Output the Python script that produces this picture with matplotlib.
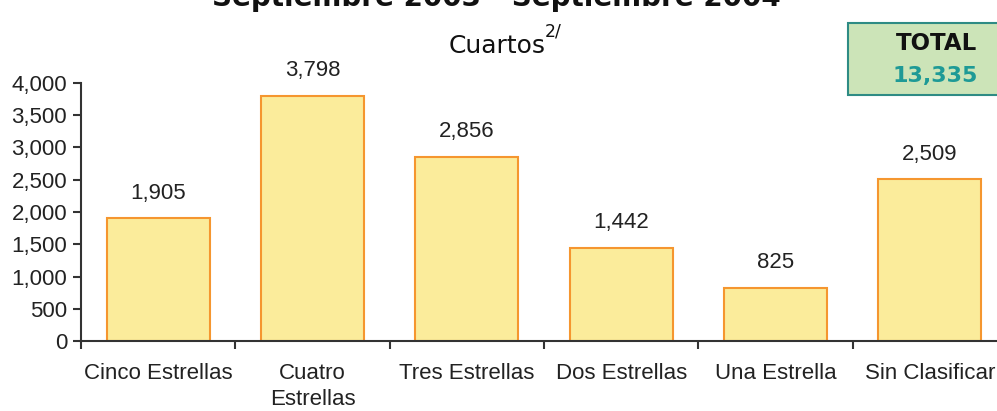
import matplotlib.pyplot as plt
from matplotlib.patches import Rectangle

categories = ['Cinco Estrellas', 'Cuatro\nEstrellas', 'Tres Estrellas',
              'Dos Estrellas', 'Una Estrella', 'Sin Clasificar']
rooms = [1905, 3798, 2856, 1442, 825, 2509]
yticks = [0, 500, 1000, 1500, 2000, 2500, 3000, 3500, 4000]
total = 13335

W, H = 997, 411
fig = plt.figure(figsize=(W / 100, H / 100), dpi=100)
# axes run a bit past the right edge, as in the original
ax = fig.add_axes([81 / W, 70 / H, 926 / W, 258 / H])

x = range(len(categories))
bars = ax.bar(x, rooms, width=0.667, color='#FBEC9B', edgecolor='#F5962F', linewidth=1.5)

for rect, v in zip(bars, rooms):
    ax.annotate(f'{v:,}', (rect.get_x() + rect.get_width() / 2, v),
                xytext=(0, 10.5), textcoords='offset points', ha='center', va='bottom',
                fontsize=16, color='#222222', family='Liberation Sans')

ax.set_xlim(-0.5, len(categories) - 0.5)
ax.set_ylim(0, 4000)
ax.set_yticks(yticks)
ax.set_yticklabels([f'{t:,}' for t in yticks], fontsize=16, color='#222222',
                   family='Liberation Sans')
ax.set_xticks(list(x))
ax.set_xticklabels(categories, fontsize=16, color='#222222', family='Liberation Sans',
                   linespacing=1.3, va='top')
ax.tick_params(axis='x', length=0, pad=16)
ax.set_xticks([i - 0.5 for i in range(len(categories) + 1)], minor=True)
ax.tick_params(axis='x', which='minor', length=6, width=1.5, color='#333333')
ax.tick_params(axis='y', length=6, width=1.5, color='#333333', pad=4)

for side in ['top', 'right']:
    ax.spines[side].set_visible(False)
for side in ['left', 'bottom']:
    ax.spines[side].set_color('#333333')
    ax.spines[side].set_linewidth(1.5)

# title is clipped by the top edge in the original
fig.text(496 / W, 1 - 6 / H, 'Septiembre 2003 - Septiembre 2004', ha='center',
         va='baseline', fontsize=20, fontweight='bold', color='#111111')
fig.text(449 / W, 1 - 53 / H, 'Cuartos', ha='left', va='baseline',
         fontsize=18, color='#111111')
fig.text(545 / W, 1 - 36 / H, '2/', ha='left', va='baseline',
         fontsize=12.5, color='#111111')

box = Rectangle((848 / W, 1 - 95 / H), 152 / W, 72 / H, transform=fig.transFigure,
                facecolor='#CCE4B8', edgecolor='#2E8B84', linewidth=1.5)
fig.patches.append(box)
fig.text(936 / W, 1 - 50 / H, 'TOTAL', ha='center', va='baseline', fontsize=16.5,
         fontweight='bold', color='#111111')
fig.text(935 / W, 1 - 82 / H, f'{total:,}', ha='center', va='baseline', fontsize=16,
         fontweight='bold', color='#1E9A96')

fig.savefig('out.png', dpi=100)
